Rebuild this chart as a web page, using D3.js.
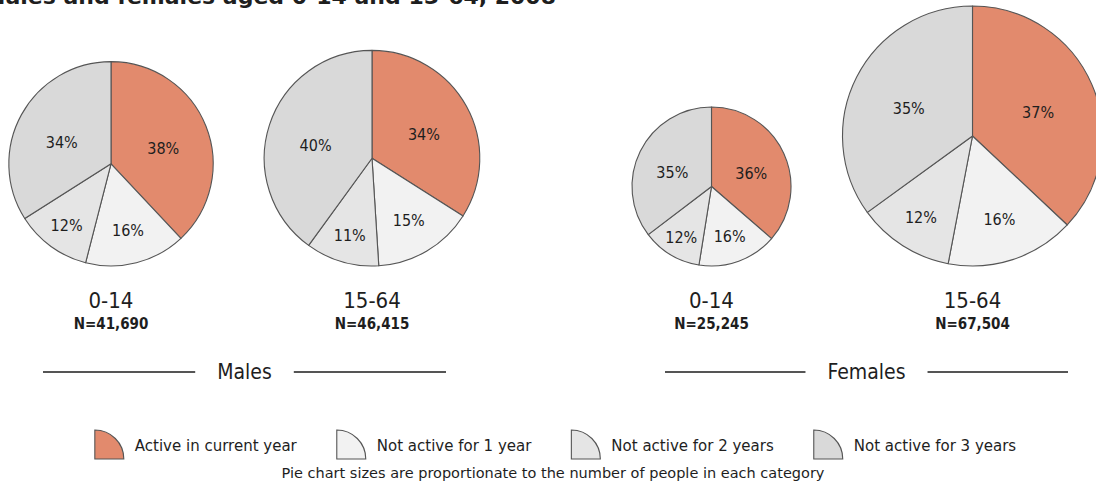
<!DOCTYPE html>
<html>
<head>
<meta charset="utf-8">
<script src="https://cdn.jsdelivr.net/npm/d3@7"></script>
<style>
  html, body { margin: 0; padding: 0; background: #ffffff; }
  svg { display: block; }
  text { font-family: "DejaVu Sans Condensed", "DejaVu Sans", sans-serif; font-stretch: condensed; fill: #1e1e1e; }
  text.wide { font-family: "DejaVu Sans", sans-serif; font-stretch: normal; }
</style>
</head>
<body>
<svg id="chart" width="1096" height="504"></svg>
<script>
// ---- data ----
const groups = ["Males", "Females"];
const ageBands = ["0-14", "15-64"];
const pieGroup = ["Males", "Males", "Females", "Females"];
const pieAge = ["0-14", "15-64", "0-14", "15-64"];
const populations = [41690, 46415, 25245, 67504];
const statuses = ["Active in current year", "Not active for 1 year", "Not active for 2 years", "Not active for 3 years"];
const shareActive = [38, 34, 36, 37];
const shareNotActive1 = [16, 15, 16, 16];
const shareNotActive2 = [12, 11, 12, 12];
const shareNotActive3 = [34, 40, 35, 35];
const titleText = "Males and females aged 0-14 and 15-64, 2008";
const footnote = "Pie chart sizes are proportionate to the number of people in each category";

// ---- styling ----
const statusColors = ["#e28a6d", "#f2f2f2", "#e5e5e5", "#d9d9d9"];
const strokeColor = "#555555";

const svg = d3.select("#chart");

// Title (runs off the top edge of the canvas)
svg.append("text")
  .attr("class", "wide")
  .attr("x", 556).attr("y", 4)
  .attr("text-anchor", "end")
  .style("font-weight", "bold")
  .style("font-size", "22px")
  .text(titleText);

// ---- scales ----
const rScale = d3.scaleSqrt().domain([0, d3.max(populations)]).range([0, 130]);
const groupX = d3.scalePoint().domain(groups).range([241.5, 842]);
const ageOffset = d3.scalePoint().domain(ageBands).range([-130.5, 130.5]);
const colorScale = d3.scaleOrdinal().domain(statuses).range(statusColors);
const baseY = 266; // common bottom line of all pies

const pie = d3.pie().sort(null).value(d => d.value);
const fmtN = d3.format(",");

populations.forEach((n, i) => {
  const r = rScale(n);
  const cx = groupX(pieGroup[i]) + ageOffset(pieAge[i]);
  const cy = baseY - r;
  const shares = [shareActive[i], shareNotActive1[i], shareNotActive2[i], shareNotActive3[i]];
  const slices = pie(statuses.map((s, k) => ({ status: s, value: shares[k] })));
  const arc = d3.arc().innerRadius(0).outerRadius(r);

  const g = svg.append("g").attr("transform", `translate(${cx},${cy})`);
  g.selectAll("path").data(slices).join("path")
    .attr("d", arc)
    .attr("fill", d => colorScale(d.data.status))
    .attr("stroke", strokeColor)
    .attr("stroke-width", 1.1)
    .attr("stroke-linejoin", "round");

  // percentage labels: smaller slices get their label pushed further out,
  // larger slices sit a little lower
  g.selectAll("text.pct").data(slices).join("text")
    .attr("class", "pct")
    .attr("transform", d => {
      const big = d.data.value >= 30;
      const k = big ? 0.55 : (d.data.value >= 14 ? 0.67 : 0.74);
      const la = d3.arc().innerRadius(r * k).outerRadius(r * k);
      const [x, y] = la.centroid(d);
      return `translate(${x},${y + (big ? 5 : 0)})`;
    })
    .attr("text-anchor", "middle")
    .attr("dy", "0.36em")
    .style("font-size", "16px")
    .text(d => d.data.value + "%");

  // age band and sample size under each pie
  svg.append("text")
    .attr("x", cx).attr("y", 308)
    .attr("text-anchor", "middle")
    .style("font-size", "22px")
    .text(pieAge[i]);
  svg.append("text")
    .attr("x", cx).attr("y", 329)
    .attr("text-anchor", "middle")
    .style("font-size", "15px")
    .style("font-weight", "bold")
    .text("N=" + fmtN(n));
});

// ---- group captions with rules on either side ----
const captionCenter = d3.scalePoint().domain(groups).range([244.5, 866.5]);
const captionHalfSpan = 201.5;
groups.forEach(gName => {
  const cxg = captionCenter(gName);
  const t = svg.append("text")
    .attr("x", cxg).attr("y", 379)
    .attr("text-anchor", "middle")
    .style("font-size", "21px")
    .text(gName);
  const tw = t.node().getComputedTextLength();
  const gap = 22;
  [[cxg - captionHalfSpan, cxg - tw / 2 - gap], [cxg + tw / 2 + gap, cxg + captionHalfSpan]].forEach(([x1, x2]) => {
    svg.append("line")
      .attr("x1", x1).attr("x2", x2)
      .attr("y1", 372).attr("y2", 372)
      .attr("stroke", "#555555")
      .attr("stroke-width", 2);
  });
});

// ---- legend ----
const iconR = 29;
const iconArc = d3.arc().innerRadius(0).outerRadius(iconR).startAngle(0).endAngle(Math.PI / 2);
const legend = svg.append("g");
let lx = 0;
statuses.forEach((s, k) => {
  const item = legend.append("g").attr("transform", `translate(${lx},0)`);
  item.append("path")
    .attr("d", iconArc)
    .attr("transform", `translate(0,${iconR})`)
    .attr("fill", colorScale(s))
    .attr("stroke", strokeColor)
    .attr("stroke-width", 1.1);
  const t = item.append("text")
    .attr("class", "wide")
    .attr("x", iconR + 11).attr("y", 21)
    .style("font-size", "15px")
    .text(s);
  lx += iconR + 11 + t.node().getComputedTextLength() + 40;
});
const legendWidth = lx - 40;
legend.attr("transform", `translate(${(93 + 1018) / 2 - legendWidth / 2},430)`);

svg.append("text")
  .attr("class", "wide")
  .attr("x", 553).attr("y", 478)
  .attr("text-anchor", "middle")
  .style("font-size", "14.5px")
  .text(footnote);
</script>
</body>
</html>
